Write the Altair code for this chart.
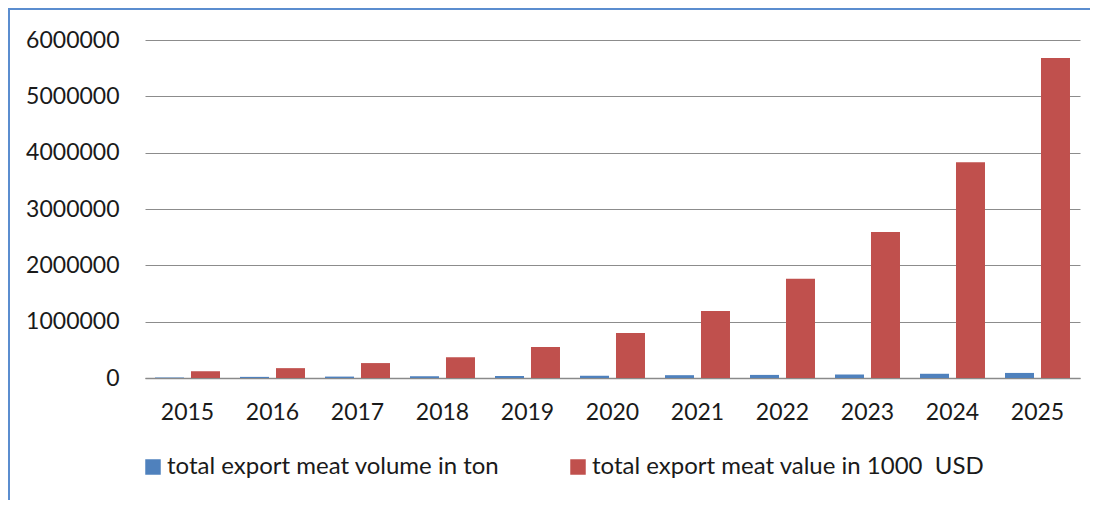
import altair as alt
import pandas as pd

years = ["2015", "2016", "2017", "2018", "2019", "2020", "2021", "2022", "2023", "2024", "2025"]
volume_ton = [8000, 20000, 25000, 30000, 35000, 42000, 50000, 55000, 62000, 75000, 90000]
value_1000usd = [120000, 175000, 265000, 370000, 550000, 800000, 1190000, 1760000, 2590000, 3830000, 5680000]
series_names = ["total export meat volume in ton", "total export meat value in 1000\u00a0 USD"]
series_colors = ["#4F81BD", "#C0504D"]
y_ticks = [0, 1000000, 2000000, 3000000, 4000000, 5000000, 6000000]

rows = []
for i, yr in enumerate(years):
    rows.append({"year": yr, "series": series_names[0], "amount": volume_ton[i]})
    rows.append({"year": yr, "series": series_names[1], "amount": value_1000usd[i]})
df = pd.DataFrame(rows)

FONT = "Lato"
TXT = "#1a1a1a"

bars = alt.Chart(df).mark_bar().encode(
    x=alt.X("year:N", sort=years,
            scale=alt.Scale(paddingInner=0, paddingOuter=0),
            axis=alt.Axis(title=None, labelAngle=0, tickSize=0, labelPadding=23,
                          domainColor="#8a8a8a", domainWidth=1.5, grid=False,
                          labelFont=FONT, labelFontSize=23, labelColor=TXT)),
    xOffset=alt.XOffset("series:N", sort=series_names,
                        scale=alt.Scale(domain=series_names, paddingInner=0.194, paddingOuter=0.278)),
    y=alt.Y("amount:Q",
            scale=alt.Scale(domain=[0, 6000000], nice=False),
            axis=alt.Axis(title=None, values=y_ticks, format="d", tickSize=0, labelPadding=26,
                          domain=False, gridColor="#8c8c8c", gridWidth=1,
                          labelFont=FONT, labelFontSize=23, labelColor=TXT)),
    color=alt.Color("series:N", sort=series_names,
                    scale=alt.Scale(domain=series_names, range=series_colors),
                    legend=alt.Legend(title=None, orient="none", legendX=-4, legendY=415,
                                      direction="horizontal", symbolType="square",
                                      symbolSize=240, symbolStrokeWidth=0, labelOffset=2,
                                      columnPadding=66, padding=0, labelFont=FONT, labelFontSize=24,
                                      labelColor=TXT, labelLimit=700)),
)

frame = pd.DataFrame({"k": [0]})
top_border = alt.Chart(frame).mark_rule(color="#5B8DCF", strokeWidth=2).encode(
    x=alt.value(-137), x2=alt.value(960), y=alt.value(-31))
left_border = alt.Chart(frame).mark_rule(color="#5B8DCF", strokeWidth=2).encode(
    x=alt.value(-136), y=alt.value(-32), y2=alt.value(460))

chart = alt.layer(bars, top_border, left_border).properties(
    width=935, height=338,
    padding={"left": 137, "top": 32, "right": 10, "bottom": 122},
    autosize=alt.AutoSizeParams(type="none")
).configure_view(stroke=None)

chart.save("out.html", embed_options={"renderer": "svg", "actions": False})
